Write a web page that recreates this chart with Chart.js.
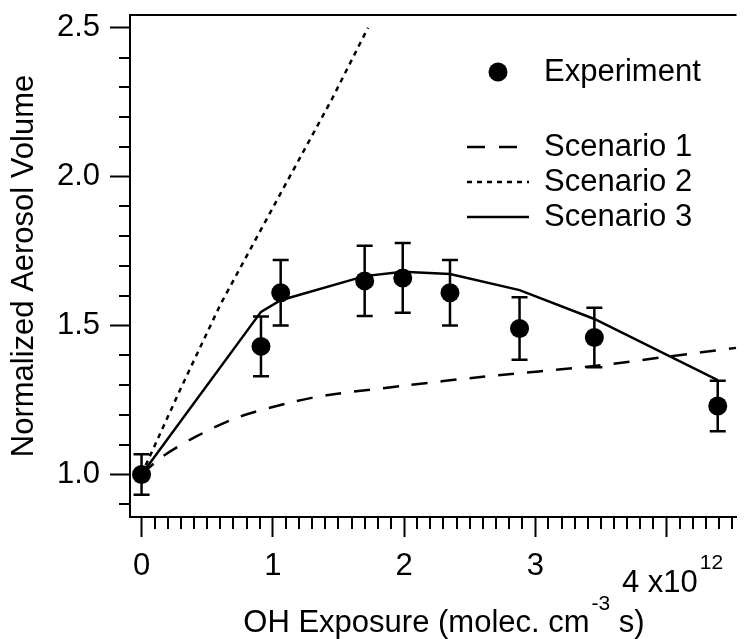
<!DOCTYPE html>
<html>
<head>
<meta charset="utf-8">
<script src="https://cdn.jsdelivr.net/npm/chart.js@4.4.0/dist/chart.umd.min.js"></script>
<style>
  html, body { margin: 0; padding: 0; background: #fff; }
  #wrap { width: 746px; height: 639px; }
</style>
</head>
<body>
<div id="wrap"><canvas id="aerosolChart" width="746" height="639"></canvas></div>
<script>
// OH exposure in units of 1e12 molec cm-3 s
const expX = [0, 0.91, 1.06, 1.70, 1.99, 2.35, 2.88, 3.45, 4.39];
const expY = [1.00, 1.43, 1.61, 1.65, 1.66, 1.61, 1.49, 1.46, 1.23];
const expErr = [0.068, 0.10, 0.11, 0.118, 0.117, 0.11, 0.105, 0.10, 0.085];

// model scenarios
const s1X = [0, 0.16, 0.41, 0.74, 1.16, 1.41, 2.0, 2.6, 3.45, 4.0, 4.53];
const s1Y = [1.00, 1.06, 1.126, 1.193, 1.244, 1.266, 1.298, 1.328, 1.364, 1.395, 1.425];
const s2X = [0, 0.3, 0.6, 1.03, 1.45, 1.725];
const s2Y = [1.00, 1.29, 1.57, 1.92, 2.26, 2.50];
const s3X = [0, 0.91, 1.06, 1.70, 1.99, 2.35, 2.88, 3.45, 4.39];
const s3Y = [1.00, 1.546, 1.585, 1.666, 1.681, 1.673, 1.619, 1.522, 1.317];

const xTicks = [0, 1, 2, 3, 4];
const yTicks = [1.0, 1.5, 2.0, 2.5];
const FONT = '"Liberation Sans", Arial, Helvetica, sans-serif';

function pts(xs, ys) {
    return xs.map((x, i) => ({ x: x, y: ys[i] }));
}

Chart.defaults.font.family = FONT;
Chart.defaults.color = '#000';

// error bars (drawn under the markers)
const errorBars = {
    id: 'errorBars',
    beforeDatasetsDraw(chart) {
        const ctx = chart.ctx;
        const xs = chart.scales.x, ys = chart.scales.y;
        ctx.save();
        ctx.strokeStyle = '#000';
        ctx.lineWidth = 2.5;
        expX.forEach((x, i) => {
            const px = xs.getPixelForValue(x);
            const top = ys.getPixelForValue(expY[i] + expErr[i]);
            const bot = ys.getPixelForValue(expY[i] - expErr[i]);
            ctx.beginPath();
            ctx.moveTo(px, top); ctx.lineTo(px, bot);
            ctx.moveTo(px - 8, top); ctx.lineTo(px + 8, top);
            ctx.moveTo(px - 8, bot); ctx.lineTo(px + 8, bot);
            ctx.stroke();
        });
        ctx.restore();
    }
};

// frame top line, minor ticks, x title, "x10^12" label, legend
const decorations = {
    id: 'decorations',
    afterDraw(chart) {
        const ctx = chart.ctx;
        const a = chart.chartArea;
        const xs = chart.scales.x, ys = chart.scales.y;
        ctx.save();
        ctx.strokeStyle = '#000';
        ctx.fillStyle = '#000';

        // top frame line
        ctx.lineWidth = 2;
        ctx.beginPath();
        ctx.moveTo(a.left - 1, a.top); ctx.lineTo(a.right, a.top);
        ctx.stroke();

        // minor ticks
        ctx.lineWidth = 2;
        ctx.beginPath();
        for (let k = 1; k <= 45; k++) {
            if (k % 10 === 0) continue;
            const px = Math.round(xs.getPixelForValue(k / 10));
            ctx.moveTo(px, a.bottom); ctx.lineTo(px, a.bottom + 12);
        }
        for (let k = 9; k <= 25; k++) {
            if (k % 5 === 0) continue;
            const py = Math.round(ys.getPixelForValue(k / 10));
            ctx.moveTo(a.left - 11, py); ctx.lineTo(a.left, py);
        }
        ctx.stroke();

        // label at 4 with exponent
        const p4 = xs.getPixelForValue(4);
        ctx.textBaseline = 'middle';
        ctx.font = '31px ' + FONT;
        const main4 = '4 x10';
        const w4 = ctx.measureText(main4).width;
        ctx.font = '21px ' + FONT;
        const wExp = ctx.measureText('12').width;
        let sx = p4 + 6 - (w4 + wExp + 2) / 2;
        ctx.font = '31px ' + FONT;
        ctx.textAlign = 'left';
        ctx.fillText(main4, sx, 583);
        ctx.font = '21px ' + FONT;
        ctx.fillText('12', sx + w4 + 2, 563);

        // x axis title with superscript
        ctx.font = '31px ' + FONT;
        const t1 = 'OH Exposure (molec. cm', t3 = ' s)';
        const w1 = ctx.measureText(t1).width, w3 = ctx.measureText(t3).width;
        ctx.font = '21px ' + FONT;
        const w2 = ctx.measureText('-3').width;
        let tx = 444 - (w1 + w2 + w3 + 2) / 2;
        ctx.font = '31px ' + FONT;
        ctx.fillText(t1, tx, 623);
        ctx.font = '21px ' + FONT;
        ctx.fillText('-3', tx + w1 + 2, 604);
        ctx.font = '31px ' + FONT;
        ctx.fillText(t3, tx + w1 + w2 + 2, 623);

        // legend
        ctx.font = '31px ' + FONT;
        ctx.beginPath();
        ctx.arc(498, 72, 9.5, 0, Math.PI * 2);
        ctx.fill();
        ctx.fillText('Experiment', 544, 72);
        const rows = [
            { label: 'Scenario 1', dash: [18, 14], y: 147 },
            { label: 'Scenario 2', dash: [5, 5], y: 182 },
            { label: 'Scenario 3', dash: [], y: 217 }
        ];
        ctx.lineWidth = 2.5;
        rows.forEach(r => {
            ctx.setLineDash(r.dash);
            ctx.beginPath();
            ctx.moveTo(467, r.y); ctx.lineTo(529, r.y);
            ctx.stroke();
            ctx.setLineDash([]);
            ctx.fillText(r.label, 544, r.y);
        });
        ctx.restore();
    }
};

new Chart(document.getElementById('aerosolChart'), {
    type: 'scatter',
    data: {
        datasets: [
            {
                label: 'Experiment',
                data: pts(expX, expY),
                showLine: false,
                pointRadius: 9.5,
                pointBackgroundColor: '#000',
                pointBorderColor: '#000',
                pointBorderWidth: 0
            },
            {
                label: 'Scenario 1',
                data: pts(s1X, s1Y),
                showLine: true,
                borderColor: '#000',
                borderWidth: 2.5,
                borderDash: [16, 13],
                pointRadius: 0,
                tension: 0.3
            },
            {
                label: 'Scenario 2',
                data: pts(s2X, s2Y),
                showLine: true,
                borderColor: '#000',
                borderWidth: 2.5,
                borderDash: [5, 5],
                pointRadius: 0
            },
            {
                label: 'Scenario 3',
                data: pts(s3X, s3Y),
                showLine: true,
                borderColor: '#000',
                borderWidth: 2.5,
                pointRadius: 0
            }
        ]
    },
    options: {
        responsive: false,
        animation: false,
        devicePixelRatio: 1,
        layout: { padding: { top: 15, right: 0, bottom: 0, left: 0 } },
        plugins: {
            legend: { display: false },
            tooltip: { enabled: false }
        },
        scales: {
            x: {
                type: 'linear',
                min: -0.088,
                max: 4.533,
                afterBuildTicks: s => { s.ticks = xTicks.map(v => ({ value: v })); },
                afterFit: s => { s.height = 122; s.paddingLeft = 0; s.paddingRight = 0; },
                ticks: {
                    font: { size: 31 },
                    color: '#000',
                    padding: 11,
                    maxRotation: 0,
                    callback: v => (v === 4 ? '' : String(v))
                },
                grid: {
                    display: true,
                    drawOnChartArea: false,
                    drawTicks: true,
                    tickLength: 20,
                    tickWidth: 2,
                    tickColor: '#000'
                },
                border: { display: true, color: '#000', width: 2 }
            },
            y: {
                min: 0.857,
                max: 2.543,
                afterBuildTicks: s => { s.ticks = yTicks.map(v => ({ value: v })); },
                afterFit: s => { s.width = 130; s.paddingTop = 0; s.paddingBottom = 0; },
                ticks: {
                    font: { size: 31 },
                    color: '#000',
                    padding: 10,
                    callback: v => Number(v).toFixed(1)
                },
                grid: {
                    display: true,
                    drawOnChartArea: false,
                    drawTicks: true,
                    tickLength: 20,
                    tickWidth: 2,
                    tickColor: '#000'
                },
                border: { display: true, color: '#000', width: 2 },
                title: {
                    display: true,
                    text: 'Normalized Aerosol Volume',
                    font: { size: 31 },
                    color: '#000',
                    padding: { top: 6, bottom: 0 }
                }
            }
        }
    },
    plugins: [errorBars, decorations]
});
</script>
</body>
</html>
